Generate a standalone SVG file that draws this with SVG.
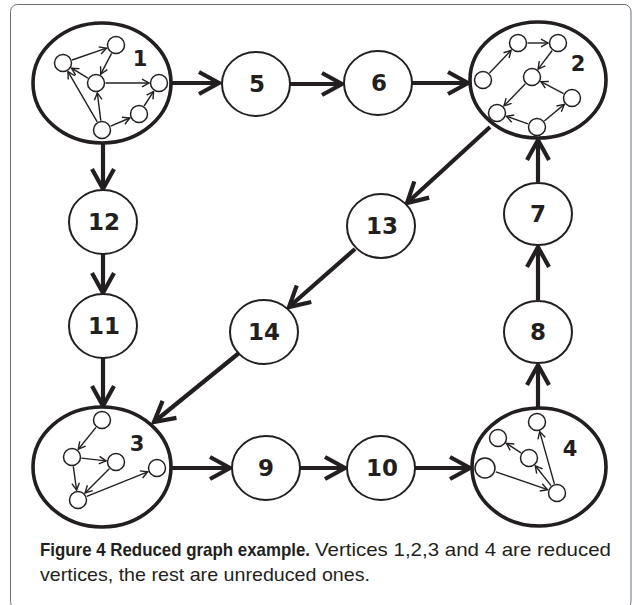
<svg xmlns="http://www.w3.org/2000/svg" width="632" height="605" viewBox="0 0 632 605">
  <defs>
    <!-- open chevron heads: heavy for main edges, light for edges inside reduced vertices -->
    <marker id="head" markerUnits="userSpaceOnUse" markerWidth="40" markerHeight="40" viewBox="-30 -20 40 40" refX="0" refY="0" orient="auto" overflow="visible">
      <path d="M-20,-11 L0,0 L-20,11" fill="none" stroke="#231f20" stroke-width="4.2"/>
    </marker>
    <marker id="tip" markerUnits="userSpaceOnUse" markerWidth="16" markerHeight="16" viewBox="-10 -8 16 16" refX="0" refY="0" orient="auto" overflow="visible">
      <path d="M-7,-3.8 L0,0 L-7,3.8" fill="none" stroke="#231f20" stroke-width="1.4"/>
    </marker>
  </defs>
  <style>
    .frame { fill: none; stroke: #6d6e71; stroke-width: 1; }
    .big { fill: #fff; stroke: #231f20; stroke-width: 3.6; }
    .node { fill: #fff; stroke: #231f20; stroke-width: 2; }
    .sub { fill: #fff; stroke: #231f20; stroke-width: 1.5; }
    .edge { stroke: #231f20; stroke-width: 4.2; fill: none; marker-end: url(#head); }
    .inner { stroke: #231f20; stroke-width: 1.4; fill: none; marker-end: url(#tip); }
    .lbl { font-family: "DejaVu Sans", sans-serif; font-weight: bold; font-size: 23px; fill: #231f20; text-anchor: middle; }
    .biglbl { font-family: "DejaVu Sans", sans-serif; font-weight: bold; font-size: 21px; fill: #231f20; text-anchor: middle; }
    .cap { font-family: "Liberation Sans Narrow", "Liberation Sans", sans-serif; font-size: 18.5px; fill: #231f20; }
    .capb { font-weight: bold; }
  </style>

  <rect class="frame" x="10.5" y="4.5" width="620.5" height="604" rx="7"/>

  <!-- connectors between vertices -->
  <g id="connectors">
    <line class="edge" x1="172" y1="83" x2="219" y2="83"/>
    <line class="edge" x1="290" y1="84" x2="342" y2="84"/>
    <line class="edge" x1="412" y1="83" x2="468" y2="83"/>
    <line class="edge" x1="103" y1="142" x2="103" y2="189"/>
    <line class="edge" x1="103" y1="254" x2="103" y2="293"/>
    <line class="edge" x1="103" y1="358" x2="103" y2="406"/>
    <line class="edge" x1="538" y1="408" x2="538" y2="365"/>
    <line class="edge" x1="538" y1="300" x2="538" y2="247"/>
    <line class="edge" x1="538" y1="182" x2="538" y2="140"/>
    <line class="edge" x1="490" y1="127" x2="407" y2="203"/>
    <line class="edge" x1="355" y1="249" x2="289" y2="307"/>
    <line class="edge" x1="239" y1="353" x2="154" y2="422"/>
    <line class="edge" x1="172" y1="468" x2="230" y2="468"/>
    <line class="edge" x1="300" y1="468" x2="345" y2="468"/>
    <line class="edge" x1="415" y1="468" x2="470" y2="468"/>
  </g>

  <!-- reduced vertex 1 -->
  <g id="v1">
    <ellipse class="big" cx="102" cy="83" rx="69" ry="60"/>
    <line class="inner" x1="72" y1="60" x2="106.5" y2="48.2"/>
    <line class="inner" x1="111.6" y1="53.4" x2="100.7" y2="74.1"/>
    <line class="inner" x1="87.9" y1="78.1" x2="71.6" y2="68.2"/>
    <line class="inner" x1="105.5" y1="83" x2="149" y2="83"/>
    <line class="inner" x1="100.8" y1="120.6" x2="97.3" y2="92.9"/>
    <line class="inner" x1="97.2" y1="121.8" x2="68" y2="71.6"/>
    <line class="inner" x1="110.7" y1="126.2" x2="129.8" y2="118"/>
    <line class="inner" x1="144.1" y1="106" x2="153.6" y2="91.4"/>
    <circle class="sub" cx="63" cy="63" r="8.5"/>
    <circle class="sub" cx="116" cy="45" r="8.5"/>
    <circle class="sub" cx="96" cy="83" r="8.5"/>
    <circle class="sub" cx="159" cy="83" r="8.5"/>
    <circle class="sub" cx="139" cy="114" r="8.5"/>
    <circle class="sub" cx="102" cy="130" r="8.5"/>
    <text class="biglbl" x="140" y="66">1</text>
  </g>

  <!-- reduced vertex 2 -->
  <g id="v2">
    <ellipse class="big" cx="538" cy="80" rx="68" ry="58"/>
    <line class="inner" x1="489.5" y1="73.1" x2="511.1" y2="50.3"/>
    <line class="inner" x1="527.5" y1="43" x2="548" y2="43"/>
    <line class="inner" x1="552.2" y1="50.5" x2="538.1" y2="69.1"/>
    <line class="inner" x1="563.6" y1="93.6" x2="540.9" y2="81.6"/>
    <line class="inner" x1="525.4" y1="83.8" x2="504" y2="105.8"/>
    <line class="inner" x1="528" y1="123.9" x2="506.4" y2="116.3"/>
    <line class="inner" x1="544.3" y1="121" x2="564.3" y2="104.4"/>
    <circle class="sub" cx="483" cy="80" r="8.5"/>
    <circle class="sub" cx="518" cy="43" r="8.5"/>
    <circle class="sub" cx="558" cy="43" r="8.5"/>
    <circle class="sub" cx="532" cy="77" r="8.5"/>
    <circle class="sub" cx="572" cy="98" r="8.5"/>
    <circle class="sub" cx="497" cy="113" r="8.5"/>
    <circle class="sub" cx="537" cy="127" r="8.5"/>
    <text class="biglbl" x="578" y="71">2</text>
  </g>

  <!-- reduced vertex 3 -->
  <g id="v3">
    <ellipse class="big" cx="102" cy="467" rx="69" ry="60"/>
    <line class="inner" x1="96" y1="427.4" x2="78.3" y2="449.2"/>
    <line class="inner" x1="81.4" y1="458.1" x2="106.1" y2="460.9"/>
    <line class="inner" x1="73.3" y1="466.4" x2="76.6" y2="490.1"/>
    <line class="inner" x1="109.3" y1="468.7" x2="85.1" y2="492.9"/>
    <line class="inner" x1="86.8" y1="496.4" x2="147.7" y2="471.8"/>
    <circle class="sub" cx="102" cy="420" r="8.5"/>
    <circle class="sub" cx="72" cy="457" r="8.5"/>
    <circle class="sub" cx="116" cy="462" r="8.5"/>
    <circle class="sub" cx="157" cy="468" r="8.5"/>
    <circle class="sub" cx="78" cy="500" r="8.5"/>
    <text class="biglbl" x="137" y="451">3</text>
  </g>

  <!-- reduced vertex 4 -->
  <g id="v4">
    <ellipse class="big" cx="539" cy="467" rx="67" ry="59"/>
    <line class="inner" x1="554.4" y1="483.9" x2="539.7" y2="431.6"/>
    <line class="inner" x1="551.1" y1="485.6" x2="535.3" y2="465.8"/>
    <line class="inner" x1="521" y1="452.9" x2="506.4" y2="443.4"/>
    <line class="inner" x1="495.9" y1="471.8" x2="547.6" y2="489.7"/>
    <circle class="sub" cx="537" cy="422" r="8.5"/>
    <circle class="sub" cx="498" cy="438" r="8.5"/>
    <circle class="sub" cx="529" cy="458" r="8.5"/>
    <circle class="sub" cx="485" cy="468" r="10"/>
    <circle class="sub" cx="557" cy="493" r="8.5"/>
    <text class="biglbl" x="570" y="456">4</text>
  </g>

  <!-- unreduced vertices -->
  <g id="v5"><ellipse class="node" cx="256" cy="84" rx="34" ry="32"/><text class="lbl" x="257" y="92">5</text></g>
  <g id="v6"><ellipse class="node" cx="378" cy="83" rx="34" ry="32"/><text class="lbl" x="379" y="91">6</text></g>
  <g id="v7"><ellipse class="node" cx="538" cy="214" rx="34" ry="31"/><text class="lbl" x="538" y="222">7</text></g>
  <g id="v8"><ellipse class="node" cx="538" cy="332" rx="34" ry="31"/><text class="lbl" x="538" y="340">8</text></g>
  <g id="v9"><ellipse class="node" cx="266" cy="468" rx="34" ry="32"/><text class="lbl" x="266" y="476">9</text></g>
  <g id="v10"><ellipse class="node" cx="381" cy="468" rx="34" ry="32"/><text class="lbl" x="382" y="476">10</text></g>
  <g id="v11"><ellipse class="node" cx="103" cy="326" rx="34" ry="32"/><text class="lbl" x="104" y="334">11</text></g>
  <g id="v12"><ellipse class="node" cx="103" cy="222" rx="34" ry="32"/><text class="lbl" x="104" y="230">12</text></g>
  <g id="v13"><ellipse class="node" cx="381" cy="226" rx="34" ry="32"/><text class="lbl" x="382" y="234">13</text></g>
  <g id="v14"><ellipse class="node" cx="264" cy="332" rx="34" ry="32"/><text class="lbl" x="264" y="340">14</text></g>

  <!-- caption -->
  <text class="cap" x="40" y="556"><tspan class="capb" textLength="270" lengthAdjust="spacingAndGlyphs">Figure 4 Reduced graph example.</tspan><tspan x="315" textLength="296" lengthAdjust="spacingAndGlyphs">Vertices 1,2,3 and 4 are reduced</tspan></text>
  <text class="cap" x="40" y="581" textLength="330" lengthAdjust="spacingAndGlyphs">vertices, the rest are unreduced ones.</text>
</svg>
